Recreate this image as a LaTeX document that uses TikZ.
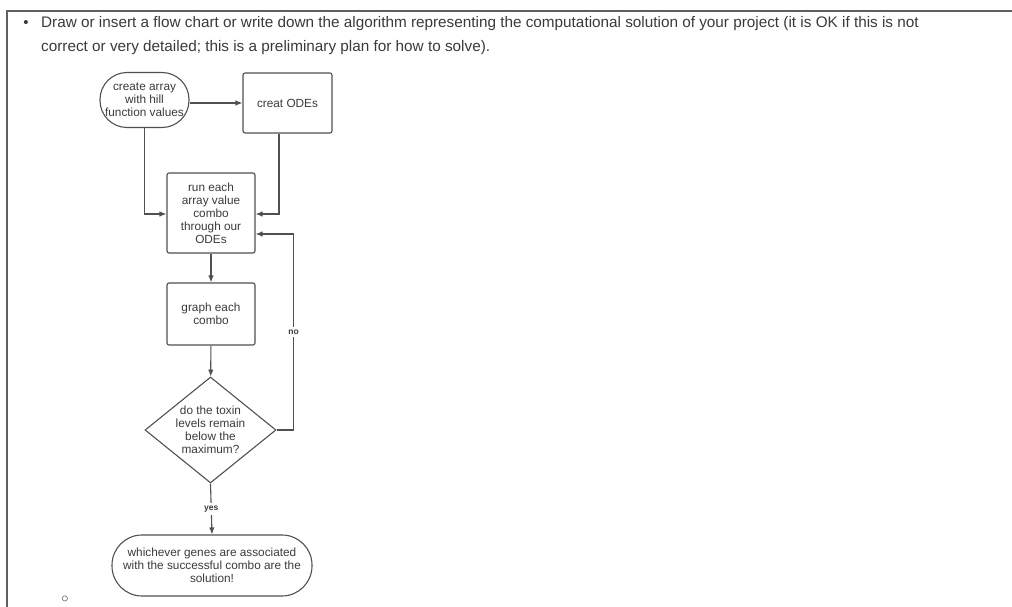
\documentclass[tikz,border=0pt]{standalone}
\usepackage{fontspec}
\setmainfont{Liberation Sans}
\usetikzlibrary{shapes.geometric,arrows.meta}
\definecolor{linegray}{HTML}{505050}
\definecolor{txtgray}{HTML}{3A3A3A}
\definecolor{framegray}{HTML}{606060}
\begin{document}
\begin{tikzpicture}[x=1pt,y=-1pt]

	\tikzstyle{stepbox} = [draw=linegray,line width=1.1pt,rounded corners=2pt,minimum width=88pt,inner sep=1pt,align=center,text=txtgray,font=\fontsize{11.8}{13}\selectfont]
	\tikzstyle{terminal} = [draw=linegray,line width=1.1pt,align=center,inner sep=0pt,text=txtgray,font=\fontsize{11.8}{13}\selectfont]
	\tikzstyle{decision} = [draw=linegray,line width=1.1pt,shape=diamond,aspect=1.24,minimum width=131pt,minimum height=106pt,inner sep=0pt,align=center,text=txtgray,font=\fontsize{11.8}{13}\selectfont]
	\tikzstyle{flow} = [draw=linegray,line width=1.1pt,-{Latex[length=7pt,width=5.5pt]}]
	\tikzstyle{answer} = [fill=white,inner sep=2.5pt,text=txtgray,font=\fontsize{8.5}{9}\selectfont\bfseries]

	\useasboundingbox (0,0) rectangle (1012,607);

	% frame and question
	\draw[framegray,line width=1.2pt] (7,607) -- (7,11) -- (1012,11);
	\node[anchor=base,text=txtgray,font=\fontsize{15}{16}\selectfont] (dot) at (26,28) {\textbullet};
	\node[anchor=base west,inner sep=0pt,text=txtgray,font=\fontsize{15.3}{16}\selectfont] (line1) at (41,28)
		{Draw or insert a flow chart or write down the algorithm representing the computational solution of your project (it is OK if this is not};
	\node[anchor=base west,inner sep=0pt,text=txtgray,font=\fontsize{15.3}{16}\selectfont] (line2) at (41,52)
		{correct or very detailed; this is a preliminary plan for how to solve).};

	% flow chart
	\node[terminal,rounded corners=27pt,minimum width=89pt,minimum height=55pt] (create) at (144.5,100) {create array\\with hill\\function values};
	\node[stepbox,minimum width=89pt,minimum height=60pt] (odes) at (287.5,103) {creat ODEs};
	\node[stepbox,minimum height=80pt] (run) at (211,213) {run each\\array value\\combo\\through our\\ODEs};
	\node[stepbox,minimum height=62pt] (graph) at (211,314) {graph each\\combo};
	\node[decision] (toxin) at (210.5,430) {do the toxin\\levels remain\\below the\\maximum?};
	\node[terminal,rounded corners=30pt,minimum width=200pt,minimum height=61pt] (solution) at (212,565.5)
		{whichever genes are associated\\with the successful combo are the\\solution!};

	\draw[flow] (create.east |- odes.west) -- (odes.west);
	\draw[flow] (create.south) |- ([yshift=-1pt]run.west);
	\draw[flow] ([xshift=-8.5pt]odes.south) |- ([yshift=-1pt]run.east);
	\draw[flow] (run) -- (graph);
	\draw[flow] (graph) -- (toxin);
	\draw[flow] (toxin.east) -- ++(17,0) |- node[answer,pos=0.25] {no} ([yshift=-21pt]run.east);
	\draw[flow] (toxin.south) -- node[answer,pos=0.5] {yes} (solution.north);

	\node[text=txtgray,font=\Large] (sub) at (65,599) {$\circ$};

\end{tikzpicture}
\end{document}
